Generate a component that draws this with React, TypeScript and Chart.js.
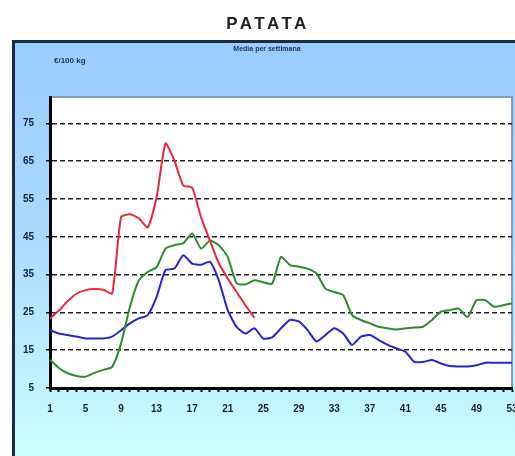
import React, { useEffect, useRef } from "react";
import { Chart, registerables } from "chart.js";

Chart.register(...registerables);

const weeks: string[] = [
  "1","2","3","4","5","6","7","8","9","10","11","12","13","14","15","16","17","18","19","20",
  "21","22","23","24","25","26","27","28","29","30","31","32","33","34","35","36","37","38","39","40",
  "41","42","43","44","45","46","47","48","49","50","51","52","53",
];

const redSeries: number[] = [
  23.4, 25.5, 28, 30, 30.9, 31.2, 31, 30, 50.2, 51, 49.9, 47.5, 55.5, 69.7, 65.2, 58.6,
  58, 50.2, 44, 38, 34, 30.4, 26.9, 23.6,
];

const greenSeries: number[] = [
  12.5, 10.3, 8.9, 8.2, 8, 9, 9.8, 10.6, 16.8, 26.5, 33.5, 35.7, 37, 41.9, 42.8, 43.3,
  45.9, 41.9, 44, 42.8, 39.7, 32.7, 32.4, 33.5, 33, 32.6, 39.7, 37.5, 37.1, 36.6, 35.3, 31.3,
  30.4, 29.6, 24.3, 23, 22.1, 21.2, 20.8, 20.5, 20.8, 21, 21.2, 23, 25.2, 25.6, 26, 23.8,
  28.2, 28.2, 26.5, 26.9, 27.4,
];

const blueSeries: number[] = [
  20.3, 19.4, 19, 18.6, 18.1, 18.1, 18.1, 18.6, 20.3, 22.1, 23.4, 24.3, 29.1, 36.2, 36.6, 40.1,
  37.9, 37.6, 38.4, 33.5, 25.6, 21.2, 19.4, 20.8, 18.1, 18.4, 20.8, 23, 22.6, 20.3, 17.3, 19,
  20.8, 19.4, 16.4, 18.6, 19, 17.7, 16.4, 15.5, 14.6, 11.9, 11.9, 12.4, 11.5, 10.8, 10.7, 10.7,
  11, 11.7, 11.7, 11.7, 11.7,
];

const yTicks: number[] = [5, 15, 25, 35, 45, 55, 65, 75];

const titleText = "PATATA";
const subtitleText = "Media per settimana";
const unitText = "€/100 kg";

const framePlugin = {
  id: "frame",
  beforeDraw(chart: any) {
    const { ctx, chartArea, width, height } = chart;
    ctx.save();
    ctx.fillStyle = "#ffffff";
    ctx.fillRect(0, 0, width, height);
    const g = ctx.createLinearGradient(0, 40, 0, height);
    g.addColorStop(0, "#99ccff");
    g.addColorStop(0.45, "#aad8ff");
    g.addColorStop(1, "#ccffff");
    ctx.fillStyle = g;
    ctx.fillRect(12, 40, width - 12, height - 40);
    ctx.strokeStyle = "#1c2a44";
    ctx.lineWidth = 3;
    ctx.beginPath();
    ctx.moveTo(13.5, height);
    ctx.lineTo(13.5, 41.5);
    ctx.lineTo(width, 41.5);
    ctx.stroke();
    // plot area
    ctx.fillStyle = "#ffffff";
    ctx.fillRect(chartArea.left, chartArea.top, chartArea.right - chartArea.left, chartArea.bottom - chartArea.top);
    ctx.strokeStyle = "#8c9cb0";
    ctx.lineWidth = 2;
    ctx.beginPath();
    ctx.moveTo(chartArea.left, chartArea.top);
    ctx.lineTo(chartArea.right, chartArea.top);
    ctx.lineTo(chartArea.right, chartArea.bottom);
    ctx.stroke();
    ctx.restore();
  },
};

export default function App() {
  const ref = useRef<HTMLCanvasElement | null>(null);

  useEffect(() => {
    if (!ref.current) return;
    const tickFont = { family: "'Liberation Sans', Arial, sans-serif", size: 10, weight: "bold" as const };
    const chart = new Chart(ref.current, {
      type: "line",
      data: {
        labels: weeks,
        datasets: [
          {
            label: "Rosso",
            data: redSeries,
            borderColor: "#e8283c",
            borderWidth: 2,
            pointRadius: 0,
            tension: 0.2,
            fill: false,
          },
          {
            label: "Verde",
            data: greenSeries,
            borderColor: "#2f8a2f",
            borderWidth: 2,
            pointRadius: 0,
            tension: 0.2,
            fill: false,
          },
          {
            label: "Blu",
            data: blueSeries,
            borderColor: "#2424d0",
            borderWidth: 2,
            pointRadius: 0,
            tension: 0.2,
            fill: false,
          },
        ],
      },
      options: {
        responsive: false,
        animation: false,
        devicePixelRatio: 1,
        layout: { padding: { left: 14, right: 3, top: 97, bottom: 0 } },
        plugins: {
          legend: { display: false },
          tooltip: { enabled: false },
          title: { display: false },
        },
        scales: {
          x: {
            type: "category",
            offset: false,
            afterFit: (s: any) => {
              s.height = 68;
              s.paddingLeft = 0;
              s.paddingRight = 0;
            },
            border: { display: true, color: "#000000", width: 3 },
            grid: {
              drawOnChartArea: false,
              drawTicks: true,
              tickLength: 4,
              tickWidth: 2,
              tickColor: "#000000",
            },
            ticks: {
              autoSkip: false,
              maxRotation: 0,
              padding: 11,
              color: "#10203c",
              font: tickFont,
              callback: (_v: any, i: number) => (i % 4 === 0 ? weeks[i] : ""),
            },
          },
          y: {
            type: "linear",
            min: 5,
            max: 82,
            afterFit: (s: any) => {
              s.width = 36;
              s.paddingTop = 0;
              s.paddingBottom = 0;
            },
            afterBuildTicks: (s: any) => {
              s.ticks = yTicks.map((v) => ({ value: v }));
            },
            border: { display: true, color: "#000000", width: 3, dash: [5, 3] },
            grid: {
              color: (c: any) => (c.tick && c.tick.value === 5 ? "rgba(0,0,0,0)" : "#202020"),
              lineWidth: 1.5,
              drawTicks: true,
              tickLength: 4,
              tickColor: "#000000",
              tickBorderDash: [],
            },
            ticks: {
              padding: 12,
              color: "#10203c",
              font: tickFont,
            },
          },
        },
      },
      plugins: [framePlugin],
    });
    return () => chart.destroy();
  }, []);

  return (
    <div style={{ position: "absolute", left: 0, top: 0, width: 515, height: 456, overflow: "hidden", background: "#fff" }}>
      <canvas ref={ref} width={515} height={456} style={{ display: "block" }} />
      <div
        style={{
          position: "absolute",
          left: 0,
          width: 536,
          top: 14,
          textAlign: "center",
          fontFamily: "'Liberation Sans', Arial, sans-serif",
          fontWeight: "bold",
          fontSize: 17,
          letterSpacing: 3.5,
          color: "#222",
          lineHeight: "19px",
        }}
      >
        {titleText}
      </div>
      <div
        style={{
          position: "absolute",
          left: 212,
          width: 110,
          top: 44,
          textAlign: "center",
          fontFamily: "'Liberation Sans', Arial, sans-serif",
          fontWeight: "bold",
          fontSize: 7,
          color: "#1c3050",
          lineHeight: "9px",
        }}
      >
        {subtitleText}
      </div>
      <div
        style={{
          position: "absolute",
          left: 54,
          top: 56,
          fontFamily: "'Liberation Sans', Arial, sans-serif",
          fontWeight: "bold",
          fontSize: 8,
          color: "#1c3050",
          lineHeight: "10px",
        }}
      >
        {unitText}
      </div>
    </div>
  );
}
